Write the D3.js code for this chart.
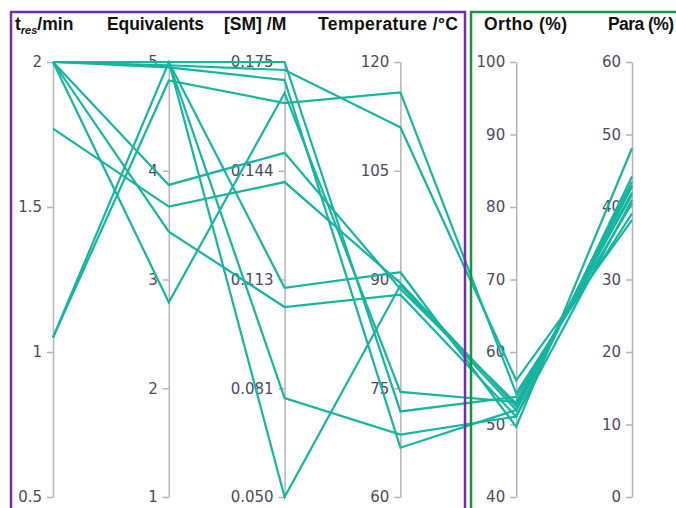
<!DOCTYPE html>
<html>
<head>
<meta charset="utf-8">
<script src="https://cdn.jsdelivr.net/npm/d3@7"></script>
<style>
  body { margin: 0; background: #fff; }
  .tick text { font-family: "DejaVu Sans", Verdana, sans-serif; font-size: 15px; fill: #4b4b5e; }
  .title { font-family: "Liberation Sans", Arial, sans-serif; font-weight: bold; font-size: 17.5px; fill: #111; }
</style>
</head>
<body>
<script>
// size of svg
var fullWidth = 676;
var fullHeight = 508;

// axis names (one per column)
var dims = ["tres", "equiv", "conc", "temp", "ortho", "para"];

// values for every run (index = run)
var tres  = [2, 2, 2, 2, 1.05, 2, 1.77, 1.05, 2, 2, 2];
var equiv = [5, 4.97, 4.95, 2.79, 4.83, 3.87, 3.67, 5, 3.44, 5, 5];
var conc  = [0.175, 0.1727, 0.1698, 0.1661, 0.1632, 0.1489, 0.1405, 0.1101, 0.1046, 0.0784, 0.050];
var temp  = [71.8, 111.0, 66.8, 74.5, 115.8, 88.7, 89.5, 91.0, 87.9, 68.6, 89.2];
var ortho = [53.8, 56.1, 52.0, 53.1, 54.3, 52.9, 52.5, 49.7, 51.1, 51.1, 52.0];
var para  = [40.5, 38.2, 43.5, 41.7, 39.1, 42.0, 42.8, 48.1, 44.2, 41.0, 43.0];

// axis domains and tick labels
var domains = {
    tres: [0.5, 2], equiv: [1, 5], conc: [0.05, 0.175],
    temp: [60, 120], ortho: [40, 100], para: [0, 60]
};
var tresTicks  = ["0.5", "1", "1.5", "2"];
var equivTicks = ["1", "2", "3", "4", "5"];
var concTicks  = ["0.050", "0.081", "0.113", "0.144", "0.175"];
var tempTicks  = ["60", "75", "90", "105", "120"];
var orthoTicks = ["40", "50", "60", "70", "80", "90", "100"];
var paraTicks  = ["0", "10", "20", "30", "40", "50", "60"];
var tickLabels = {tres: tresTicks, equiv: equivTicks, conc: concTicks,
                  temp: tempTicks, ortho: orthoTicks, para: paraTicks};

// build rows from the arrays
var rows = tres.map(function(d, i) {
    return {tres: tres[i], equiv: equiv[i], conc: conc[i],
            temp: temp[i], ortho: ortho[i], para: para[i]};
});

var svg = d3.select("body").append("svg")
            .attr("width", fullWidth)
            .attr("height", fullHeight);

// x position for each axis
var xScale = d3.scalePoint().domain(dims).range([53, 632]);

// one y scale per axis
var yScales = {};
dims.forEach(function(k) {
    yScales[k] = d3.scaleLinear().domain(domains[k]).range([497, 62]);
});

// draw axes
dims.forEach(function(k) {
    var labels = tickLabels[k];
    var dom = domains[k];
    var vals = labels.map(function(l, i) {
        return dom[0] + (dom[1] - dom[0]) * i / (labels.length - 1);
    });
    var axis = d3.axisLeft(yScales[k])
                 .tickValues(vals)
                 .tickSize(6)
                 .tickSizeOuter(0)
                 .tickPadding(5)
                 .tickFormat(function(d, i) { return labels[i]; });
    var g = svg.append("g")
       .attr("transform", "translate(" + xScale(k) + ",0)")
       .call(axis);
    g.select(".domain").attr("stroke", "#b4b4b4").attr("stroke-width", 1.5);
    g.selectAll(".tick line").attr("stroke", "#b4b4b4").attr("stroke-width", 1.5);
});

// draw the lines
var line = d3.line()
             .x(function(d) { return xScale(d.k); })
             .y(function(d) { return yScales[d.k](d.v); });

svg.append("g").selectAll("path")
   .data(rows)
   .enter()
   .append("path")
   .attr("d", function(r) {
       return line(dims.map(function(k) { return {k: k, v: r[k]}; }));
   })
   .attr("fill", "none")
   .attr("stroke", "#17b4a0")
   .attr("stroke-width", 2.2);

// coloured frames around the two groups
svg.append("rect")
   .attr("x", 11).attr("y", 12)
   .attr("width", 454).attr("height", 510)
   .attr("fill", "none")
   .attr("stroke", "#7030a0")
   .attr("stroke-width", 2.5);

svg.append("rect")
   .attr("x", 471).attr("y", 12)
   .attr("width", 220).attr("height", 510)
   .attr("fill", "none")
   .attr("stroke", "#119a3c")
   .attr("stroke-width", 2.5);

// column titles
var t1 = svg.append("text").attr("class", "title").attr("x", 15).attr("y", 30);
t1.append("tspan").text("t");
t1.append("tspan").attr("font-size", "11px").attr("font-style", "italic")
  .attr("dy", 4).text("res");
t1.append("tspan").attr("dy", -4).text("/min");

var titles = [
    {text: "Equivalents", x: 107, w: 97},
    {text: "[SM] /M", x: 224, w: null},
    {text: "Temperature /°C", x: 318, w: 140},
    {text: "Ortho (%)", x: 484, w: 83},
    {text: "Para (%)", x: 608, w: 66}
];
svg.selectAll(".colTitle")
   .data(titles)
   .enter()
   .append("text")
   .attr("class", "title")
   .attr("x", function(d) { return d.x; })
   .attr("y", 30)
   .attr("textLength", function(d) { return d.w; })
   .attr("lengthAdjust", function(d) { return d.w ? "spacing" : null; })
   .text(function(d) { return d.text; });
</script>
</body>
</html>
